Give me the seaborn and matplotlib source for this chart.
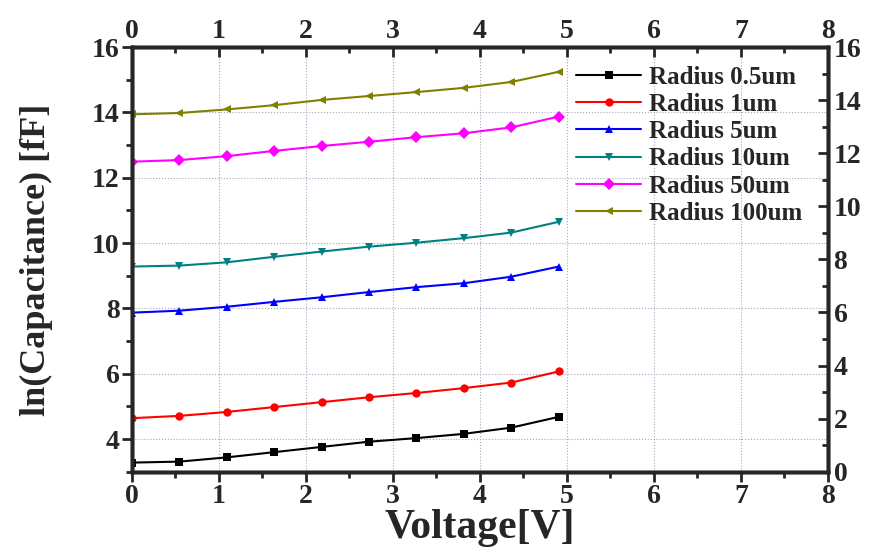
import pandas as pd
import matplotlib
matplotlib.use("Agg")
import matplotlib.pyplot as plt
import seaborn as sns
from matplotlib.ticker import MultipleLocator

# ==========================
# Dados
# ==========================
voltage = [0, 0.545, 1.09, 1.635, 2.18, 2.725, 3.27, 3.815, 4.36, 4.905]

r_05 = [3.28, 3.31, 3.44, 3.60, 3.76, 3.92, 4.03, 4.16, 4.35, 4.68]
r_1 = [4.64, 4.71, 4.83, 4.98, 5.13, 5.28, 5.41, 5.56, 5.73, 6.07]
r_5 = [7.87, 7.93, 8.05, 8.20, 8.34, 8.50, 8.65, 8.77, 8.97, 9.28]
r_10 = [9.28, 9.31, 9.41, 9.58, 9.74, 9.89, 10.01, 10.15, 10.32, 10.65]
r_50 = [12.49, 12.54, 12.66, 12.82, 12.97, 13.10, 13.24, 13.36, 13.54, 13.87]
r_100 = [13.94, 13.98, 14.09, 14.22, 14.38, 14.50, 14.62, 14.75, 14.93, 15.24]

labels = ["Radius 0.5um", "Radius 1um", "Radius 5um",
          "Radius 10um", "Radius 50um", "Radius 100um"]
series = [r_05, r_1, r_5, r_10, r_50, r_100]
colors = ["#000000", "#ff0000", "#0000ff", "#008080", "#ff00ff", "#808000"]
markers = ["s", "o", "^", "v", "D", "<"]

rows = []
for lab, vals in zip(labels, series):
    for v, c in zip(voltage, vals):
        rows.append({"Voltage": v, "lnC": c, "Serie": lab})
df = pd.DataFrame(rows)

# ==========================
# Estilo
# ==========================
sns.set_style("ticks")
plt.rcParams["font.family"] = ["Liberation Serif", "DejaVu Serif"]
plt.rcParams["font.weight"] = "bold"

fig = plt.figure(figsize=(8.81, 5.55), dpi=100)
ax = fig.add_axes([0.1498, 0.150, 0.79, 0.7653])

sns.lineplot(data=df, x="Voltage", y="lnC", hue="Serie", style="Serie",
             palette=colors, markers=markers, dashes=False,
             hue_order=labels, style_order=labels,
             linewidth=1.5, markersize=6, markeredgewidth=0, ax=ax)

ax.set_xlim(0, 8)
ax.set_ylim(3, 16)
ax.xaxis.set_major_locator(MultipleLocator(1))
ax.xaxis.set_minor_locator(MultipleLocator(0.5))
ax.yaxis.set_major_locator(MultipleLocator(2))
ax.yaxis.set_minor_locator(MultipleLocator(1))
ax.set_yticks([4, 6, 8, 10, 12, 14, 16])
ax.grid(True, which="major", linestyle=":", linewidth=0.8, color="#a8a8c0")

ax.set_xlabel("Voltage[V]", fontsize=30, fontweight="bold", labelpad=0)
ax.set_ylabel("ln(Capacitance) [fF]", fontsize=26, fontweight="bold", labelpad=28)
ax.tick_params(axis="both", which="major", direction="out", length=7, width=2,
               labelsize=20, pad=2)
ax.tick_params(axis="both", which="minor", direction="out", length=4, width=2)

for s in ax.spines.values():
    s.set_linewidth(2.5)
    s.set_visible(True)

# eixo de cima
axt = ax.twiny()
axt.set_xlim(0, 8)
axt.xaxis.set_major_locator(MultipleLocator(1))
axt.xaxis.set_minor_locator(MultipleLocator(0.5))
axt.tick_params(axis="x", which="major", direction="in", length=7, width=2,
                labelsize=20, pad=2)
axt.tick_params(axis="x", which="minor", direction="in", length=4, width=2)

# eixo da direita
axr = ax.twinx()
axr.set_ylim(0, 16)
axr.yaxis.set_major_locator(MultipleLocator(2))
axr.yaxis.set_minor_locator(MultipleLocator(1))
axr.tick_params(axis="y", which="major", direction="in", length=7, width=2,
                labelsize=20, pad=4)
axr.tick_params(axis="y", which="minor", direction="in", length=4, width=2)
for a in (axt, axr):
    for s in a.spines.values():
        s.set_linewidth(2.5)

for lab in ax.get_xticklabels() + ax.get_yticklabels() + axt.get_xticklabels() + axr.get_yticklabels():
    lab.set_fontweight("bold")

# legenda
handles, labs = ax.get_legend_handles_labels()
ax.legend(handles, labs, loc="upper left", bbox_to_anchor=(0.624, 0.98),
          frameon=False, prop={"size": 18, "weight": "bold"},
          handlelength=2.6, labelspacing=0.17, handletextpad=0.3,
          borderaxespad=0)

plt.savefig("out.png", dpi=100)
